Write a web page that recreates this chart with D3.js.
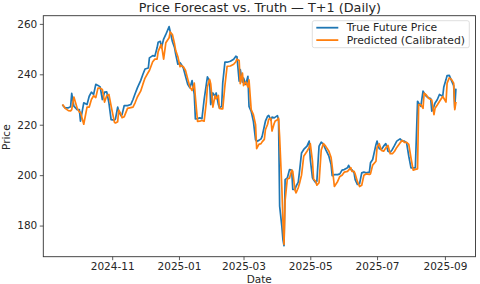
<!DOCTYPE html>
<html>
<head>
<meta charset="utf-8">
<script src="https://cdn.jsdelivr.net/npm/d3@7"></script>
<style>
  html, body { margin: 0; padding: 0; background: #fff; }
  svg { display: block; font-family: "DejaVu Sans", sans-serif; }
</style>
</head>
<body>
<svg id="chart" width="480" height="284"></svg>
<script>
const dates = [
"2024-09-17","2024-09-19","2024-09-22","2024-09-24","2024-09-25","2024-09-27","2024-09-30","2024-10-02","2024-10-03","2024-10-06",
"2024-10-09","2024-10-11","2024-10-13","2024-10-15","2024-10-17","2024-10-19","2024-10-21","2024-10-23","2024-10-25","2024-10-27",
"2024-10-29","2024-10-31","2024-11-03","2024-11-04","2024-11-06","2024-11-07","2024-11-09","2024-11-10","2024-11-12","2024-11-15",
"2024-11-18","2024-11-20","2024-11-22","2024-11-24","2024-11-27","2024-11-29","2024-12-01","2024-12-04","2024-12-05","2024-12-08",
"2024-12-10","2024-12-12","2024-12-13","2024-12-15","2024-12-16","2024-12-18","2024-12-20","2024-12-23","2024-12-24","2024-12-26",
"2024-12-28","2024-12-29","2024-12-31","2025-01-02","2025-01-03","2025-01-05","2025-01-07","2025-01-09","2025-01-11","2025-01-13",
"2025-01-15","2025-01-16","2025-01-18","2025-01-20","2025-01-22","2025-01-24","2025-01-26","2025-01-27","2025-01-29","2025-01-30",
"2025-02-01","2025-02-03","2025-02-04","2025-02-06","2025-02-07","2025-02-09","2025-02-10","2025-02-12","2025-02-14","2025-02-17",
"2025-02-20","2025-02-22","2025-02-23","2025-02-25","2025-02-26","2025-02-28","2025-03-01","2025-03-03","2025-03-05","2025-03-06",
"2025-03-08","2025-03-10","2025-03-12","2025-03-13","2025-03-15","2025-03-17","2025-03-18","2025-03-20","2025-03-21","2025-03-23",
"2025-03-24","2025-03-26","2025-03-27","2025-03-29","2025-03-30","2025-04-01","2025-04-02","2025-04-03","2025-04-05","2025-04-06",
"2025-04-07","2025-04-08","2025-04-10","2025-04-12","2025-04-14","2025-04-15","2025-04-17","2025-04-18","2025-04-20","2025-04-21",
"2025-04-23","2025-04-25","2025-04-28","2025-04-30","2025-05-01","2025-05-03","2025-05-04","2025-05-06","2025-05-07","2025-05-09",
"2025-05-11","2025-05-13","2025-05-15","2025-05-18","2025-05-20","2025-05-21","2025-05-23","2025-05-26","2025-05-28","2025-05-30",
"2025-06-01","2025-06-04","2025-06-05","2025-06-07","2025-06-08","2025-06-10","2025-06-11","2025-06-13","2025-06-15","2025-06-17",
"2025-06-19","2025-06-21","2025-06-24","2025-06-25","2025-06-27","2025-06-30","2025-07-01","2025-07-03","2025-07-05","2025-07-07",
"2025-07-09","2025-07-11","2025-07-13","2025-07-15","2025-07-17","2025-07-19","2025-07-22","2025-07-24","2025-07-26","2025-07-28",
"2025-07-30","2025-08-01","2025-08-03","2025-08-05","2025-08-07","2025-08-08","2025-08-10","2025-08-12","2025-08-13","2025-08-15",
"2025-08-17","2025-08-19","2025-08-20","2025-08-22","2025-08-23","2025-08-25","2025-08-27","2025-08-30","2025-08-31","2025-09-02",
"2025-09-03","2025-09-05","2025-09-07","2025-09-09","2025-09-10","2025-09-11"
];

const trueFuturePrice = [
227.6,226.7,226.7,227.1,232.4,227.4,226.0,226.0,221.4,228.7,
228.0,231.3,232.9,232.0,236.0,235.6,235.0,230.0,232.9,233.0,
228.7,222.0,221.8,222.3,227.0,225.3,223.6,224.0,227.6,227.6,
228.0,230.0,232.4,234.6,237.5,239.9,242.1,242.5,246.5,247.4,
247.2,250.5,252.7,253.1,250.5,254.0,255.8,258.9,257.0,253.0,
250.5,248.0,244.0,244.6,244.0,242.5,239.2,236.0,234.6,237.5,
232.0,222.3,222.4,222.7,222.4,230.0,236.0,239.0,237.3,228.0,
232.6,231.3,232.6,228.0,226.7,227.3,236.6,244.8,244.8,245.2,
246.0,247.2,247.0,237.3,241.9,236.9,238.5,236.0,239.2,227.3,
225.3,221.4,214.0,213.4,213.8,214.4,215.4,219.4,221.4,223.4,
223.7,221.8,223.0,222.7,223.0,223.6,222.0,187.7,179.7,174.4,
172.0,198.2,198.9,202.2,202.0,194.3,194.3,195.6,197.2,200.9,
208.8,210.2,211.5,213.5,206.2,198.9,198.2,197.0,197.6,211.5,
213.1,212.2,210.2,207.5,204.2,199.8,200.2,200.2,200.5,202.0,
202.2,202.9,203.9,202.2,202.2,200.9,198.2,196.3,196.6,200.9,
201.2,200.9,201.2,204.9,206.2,212.1,213.5,210.5,210.2,211.5,
212.5,209.5,209.1,210.2,211.8,213.5,214.4,213.5,213.5,212.8,
207.5,202.9,202.9,202.9,229.3,228.6,227.3,233.3,232.6,231.3,
230.7,230.4,225.4,227.3,228.6,229.9,232.0,231.3,235.0,237.9,
239.5,239.6,237.5,235.5,226.7,234.0
];

const predictedCalibrated = [
227.8,226.5,225.6,225.5,226.0,231.0,226.5,225.0,225.0,220.2,
227.0,227.0,230.0,231.5,230.8,234.5,234.5,234.0,229.0,231.5,
232.0,227.5,221.0,220.7,221.2,225.8,224.3,222.8,223.2,226.5,
226.8,227.0,228.8,231.0,233.3,236.0,238.5,240.8,241.5,245.0,
246.0,246.0,249.0,251.2,251.8,246.0,252.5,254.5,256.8,255.8,
252.0,249.5,247.0,243.0,243.5,243.0,241.5,238.2,235.0,233.6,
236.5,231.0,221.3,221.4,221.7,221.4,229.0,235.0,238.0,236.3,
227.0,231.6,230.3,231.6,226.5,226.3,226.3,235.6,243.2,243.3,
244.0,245.0,246.0,245.5,236.3,240.5,235.5,237.0,235.0,237.8,
226.0,224.0,220.0,210.5,212.2,212.5,213.2,214.2,218.0,220.2,
222.2,222.5,217.5,220.5,221.5,222.0,222.6,215.0,195.0,182.0,
172.5,190.0,198.5,198.8,202.0,201.5,194.0,193.0,195.0,196.5,
200.0,207.5,209.5,211.0,212.5,205.5,198.5,197.5,196.0,197.0,
210.0,212.5,211.5,209.5,207.0,203.5,195.5,197.5,199.5,200.0,
201.2,201.5,202.0,203.0,201.5,201.5,200.5,197.5,195.5,196.0,
200.0,200.5,200.3,200.5,204.0,205.5,211.0,212.5,209.8,209.5,
210.8,211.8,208.5,208.5,209.5,211.0,212.8,213.8,213.0,213.0,
212.2,206.8,202.0,202.3,202.5,228.0,228.0,226.5,232.5,231.8,
230.5,230.0,229.8,224.0,226.5,227.8,229.2,231.2,230.5,229.0,
236.5,238.6,238.0,236.5,226.0,228.7
];

const yTicks = [180, 200, 220, 240, 260];
const xTickLabels = ["2024-11", "2025-01", "2025-03", "2025-05", "2025-07", "2025-09"];
const seriesNames = ["True Future Price", "Predicted (Calibrated)"];
const seriesColors = ["#1f77b4", "#ff7f0e"];

const parse = d3.timeParse("%Y-%m-%d");
const parseMonth = d3.timeParse("%Y-%m");
const xs = dates.map(parse);

const svg = d3.select("#chart");
const L = 43.3, R = 475.5, T = 15.7, B = 256.7;

const xExt = d3.extent(xs);
const xPad = (xExt[1] - xExt[0]) * 0.05;
const x = d3.scaleTime()
  .domain([new Date(+xExt[0] - xPad), new Date(+xExt[1] + xPad)])
  .range([L, R]);

const allY = trueFuturePrice.concat(predictedCalibrated);
const yExt = d3.extent(allY);
const yPad = (yExt[1] - yExt[0]) * 0.05;
const y = d3.scaleLinear()
  .domain([yExt[0] - yPad, yExt[1] + yPad])
  .range([B, T]);

const textColor = "#262626";

// axes
const xAxis = d3.axisBottom(x)
  .tickValues(xTickLabels.map(parseMonth))
  .tickFormat(d3.timeFormat("%Y-%m"))
  .tickSize(3.5).tickPadding(2);
const yAxis = d3.axisLeft(y)
  .tickValues(yTicks)
  .tickFormat(d3.format("d"))
  .tickSize(3.5).tickPadding(2.5);

const gx = svg.append("g").attr("transform", `translate(0,${B})`).call(xAxis);
const gy = svg.append("g").attr("transform", `translate(${L},0)`).call(yAxis);
[gx, gy].forEach(g => {
  g.select(".domain").remove();
  g.selectAll(".tick line").attr("stroke", "#333").attr("stroke-width", 0.8);
  g.selectAll(".tick text").attr("fill", textColor)
    .style("font-family", "DejaVu Sans").style("font-size", "10.5px");
});

// lines
const line = vals => d3.line()
  .x((d, i) => x(xs[i]))
  .y(d => y(d))(vals);

const plot = svg.append("g");
plot.append("path").attr("d", line(trueFuturePrice))
  .attr("fill", "none").attr("stroke", seriesColors[0])
  .attr("stroke-width", 1.7).attr("stroke-linejoin", "round").attr("stroke-linecap", "square");
plot.append("path").attr("d", line(predictedCalibrated))
  .attr("fill", "none").attr("stroke", seriesColors[1])
  .attr("stroke-width", 1.7).attr("stroke-linejoin", "round").attr("stroke-linecap", "square");

// frame
svg.append("rect").attr("x", L).attr("y", T).attr("width", R - L).attr("height", B - T)
  .attr("fill", "none").attr("stroke", "#333").attr("stroke-width", 0.9);

// title & labels
svg.append("text").attr("x", (L + R) / 2 + 0.5).attr("y", 12)
  .attr("text-anchor", "middle").attr("fill", textColor)
  .style("font-size", "12.8px").text("Price Forecast vs. Truth \u2014 T+1 (Daily)");
svg.append("text").attr("x", 259.3).attr("y", 282.6)
  .attr("text-anchor", "middle").attr("fill", textColor)
  .style("font-size", "10.5px").text("Date");
svg.append("text").attr("transform", `translate(9.8,${(T + B) / 2 + 1}) rotate(-90)`)
  .attr("text-anchor", "middle").attr("fill", textColor)
  .style("font-size", "10.5px").text("Price");

// legend
const lg = svg.append("g").attr("transform", "translate(312.3,20.7)");
lg.append("rect").attr("width", 157).attr("height", 27).attr("rx", 2)
  .attr("fill", "#fff").attr("fill-opacity", 0.85).attr("stroke", "#d6d6d6").attr("stroke-width", 0.8);
seriesNames.forEach((name, i) => {
  const yy = 7 + i * 12.4;
  lg.append("line").attr("x1", 4).attr("x2", 26).attr("y1", yy).attr("y2", yy)
    .attr("stroke", seriesColors[i]).attr("stroke-width", 1.8);
  lg.append("text").attr("x", 34.4).attr("y", yy + 3.8).attr("fill", textColor)
    .style("font-size", "10.8px").text(name);
});
</script>
</body>
</html>
